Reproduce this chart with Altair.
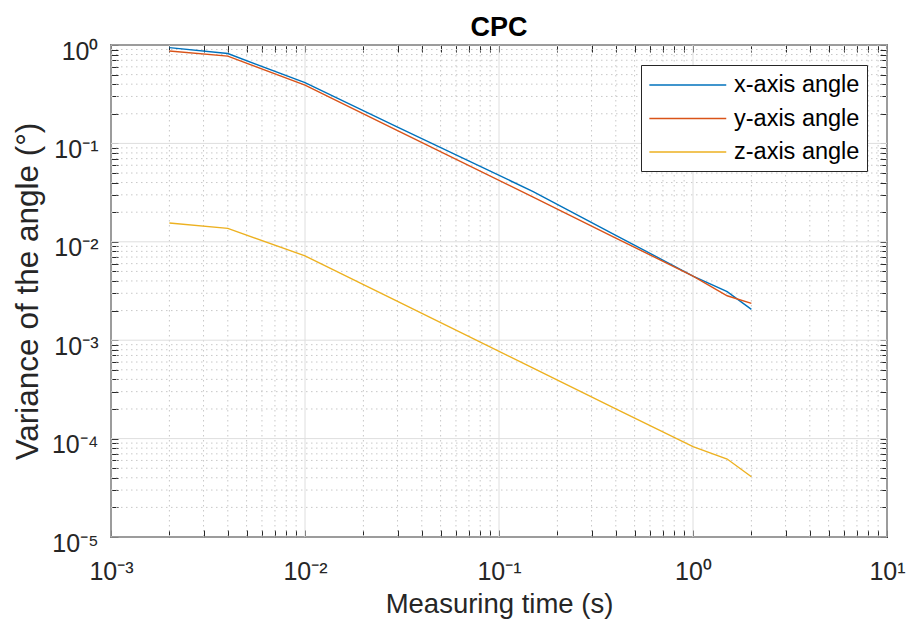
import altair as alt
import pandas as pd

# ---- data ----
time_s = [0.002, 0.004, 0.01, 0.03, 0.15, 0.4, 1.0, 1.5, 2.0]
x_angle = [0.94, 0.82, 0.414, 0.146, 0.0324, 0.01165, 0.00449, 0.00311, 0.00206]
y_angle = [0.87, 0.77, 0.392, 0.135, 0.0284, 0.0109, 0.00449, 0.00283, 0.00237]
z_angle = [0.0155, 0.0137, 0.0072, 0.00248, 0.000521, 0.000201, 8.27e-5, 6.2e-5, 4.1e-5]
series_names = ["x-axis angle", "y-axis angle", "z-axis angle"]
series_colors = ["#0072BD", "#D95319", "#EDB120"]

x_major = [1e-3, 1e-2, 1e-1, 1.0, 10.0]
y_major = [1e-5, 1e-4, 1e-3, 1e-2, 1e-1, 1.0]
x_minor = [round(k * 10.0 ** e, 12) for e in range(-3, 1) for k in range(2, 10)]
y_minor = [round(k * 10.0 ** e, 12) for e in range(-5, 0) for k in range(2, 10)]

rows = []
for name, vals in zip(series_names, [x_angle, y_angle, z_angle]):
    for t, v in zip(time_s, vals):
        rows.append({"series": name, "t": t, "v": v})
df = pd.DataFrame(rows)

W, H = 776, 492
FONT = "Liberation Sans"
AX = "#262626"

xscale = alt.Scale(type="log", domain=[1e-3, 10], nice=False)
yscale = alt.Scale(type="log", domain=[1e-5, 1], nice=False)

sup = {-5: "⁻⁵", -4: "⁻⁴", -3: "⁻³", -2: "⁻²", -1: "⁻¹", 0: "⁰", 1: "¹"}
e_expr = "round(log(datum.value)/LN10)"
label_expr = f"abs(log(datum.value)/LN10 - {e_expr}) > 0.01 ? '' : "
for e in range(-5, 2):
    label_expr += f"{e_expr} == {e} ? '10{sup[e]}' : "
label_expr += "''"

tick_axis_common = dict(labels=False, ticks=True, tickSize=7, offset=-7, domain=False,
                        grid=False, title=None, tickColor=AX, tickWidth=1)

minor_x = alt.Chart(pd.DataFrame({"v": x_minor})).mark_rule(
    color="#c8c8c8", strokeDash=[1.5, 3.5], strokeWidth=1
).encode(
    x=alt.X("v:Q", scale=xscale,
            axis=alt.Axis(orient="top", values=x_major + x_minor, **tick_axis_common)),
    y=alt.value(0), y2=alt.value(H),
)

minor_y = alt.Chart(pd.DataFrame({"v": y_minor})).mark_rule(
    color="#c8c8c8", strokeDash=[1.5, 3.5], strokeWidth=1
).encode(
    y=alt.Y("v:Q", scale=yscale,
            axis=alt.Axis(orient="right", values=y_major + y_minor, **tick_axis_common)),
    x=alt.value(0), x2=alt.value(W),
)

major_x = alt.Chart(pd.DataFrame({"v": x_major})).mark_rule(
    color="#dedede", strokeWidth=1
).encode(
    x=alt.X("v:Q", scale=xscale, axis=None),
    y=alt.value(0), y2=alt.value(H),
)

major_y = alt.Chart(pd.DataFrame({"v": y_major})).mark_rule(
    color="#dedede", strokeWidth=1
).encode(
    y=alt.Y("v:Q", scale=yscale, axis=None),
    x=alt.value(0), x2=alt.value(W),
)

lines = alt.Chart(df).mark_line(strokeWidth=1.4).encode(
    x=alt.X("t:Q", scale=xscale,
            axis=alt.Axis(orient="bottom", values=x_major + x_minor, labelExpr=label_expr,
                          tickSize=7, offset=-7, domain=False, grid=False, tickColor=AX,
                          labelPadding=22, labelFlush=False, labelOverlap=False, labelBound=False,
                          title="Measuring time (s)", titlePadding=6)),
    y=alt.Y("v:Q", scale=yscale,
            axis=alt.Axis(orient="left", values=y_major + y_minor, labelExpr=label_expr,
                          tickSize=7, offset=-7, domain=False, grid=False, tickColor=AX,
                          labelPadding=13, labelOffset=6, labelFlush=False, labelOverlap=False,
                          labelBound=False,
                          title="Variance of the angle (°)", titlePadding=7, titleFontSize=31.5)),
    color=alt.Color("series:N", scale=alt.Scale(domain=series_names, range=series_colors),
                    legend=alt.Legend(title=None, orient="top-right", offset=20,
                                      symbolType="M-1,0H5.6", symbolSize=543,
                                      symbolStrokeWidth=1.4, labelOffset=60.5,
                                      labelFontSize=23.5, labelFont=FONT, labelColor="#000000",
                                      rowPadding=9.5, padding=7.5, strokeColor=AX,
                                      fillColor="#ffffff", cornerRadius=0, labelLimit=300)),
    order=alt.Order("t:Q"),
)

chart = alt.layer(minor_x, minor_y, major_x, major_y, lines).resolve_axis(
    x="independent", y="independent"
).properties(
    width=W, height=H,
    title=alt.TitleParams("CPC", fontSize=27, fontWeight="bold", font=FONT, color="#000000",
                          offset=-3, frame="group", anchor="middle"),
    padding={"left": 111, "top": 45, "right": 21, "bottom": 89},
    autosize=alt.AutoSizeParams(type="none"),
).configure_view(
    stroke=AX, strokeWidth=1.5
).configure_axis(
    labelFont=FONT, labelFontSize=25, labelColor=AX,
    titleFont=FONT, titleFontSize=27.5, titleFontWeight="normal", titleColor=AX,
)

chart.save("out.html", embed_options={"renderer": "svg", "actions": False})
